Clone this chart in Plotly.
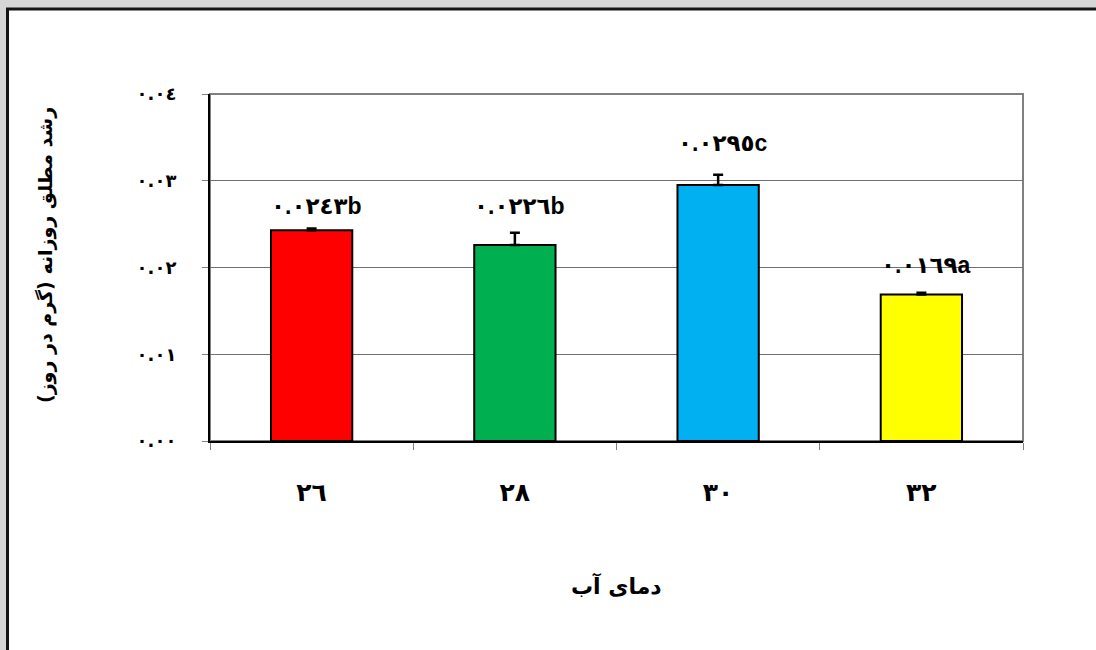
import plotly.graph_objects as go

# ---- data ----
categories = ["٢٦", "٢٨", "٣٠", "٣٢"]
values = [0.0243, 0.0226, 0.0295, 0.0169]
errors = [0.0002, 0.0014, 0.0012, 0.0002]
bar_labels = ["٠.٠٢٤٣b", "٠.٠٢٢٦b", "٠.٠٢٩٥c", "٠.٠١٦٩a"]
bar_colors = ["#FF0000", "#00B050", "#00B0F0", "#FFFF00"]
y_tickvals = [0.0, 0.01, 0.02, 0.03, 0.04]
y_ticktext = ["٠.٠٠", "٠.٠١", "٠.٠٢", "٠.٠٣", "٠.٠٤"]
x_title = "دمای آب"
y_title = "رشد مطلق روزانه (گرم در روز)\u200f"
label_shift_px = [22, 27, 32, 28]  # vertical offset of value labels above error bars

# ---- layout geometry (px) ----
W, H = 1096, 650
L, R, T, B = 210, 1023, 94, 441
pw, ph = R - L, B - T


def px_x(x):
    return (x - L) / pw


def px_y(y):
    return (B - y) / ph


FONT = "Liberation Sans, DejaVu Sans, Arial, sans-serif"

fig = go.Figure()
fig.add_trace(go.Bar(
    x=categories, y=values, width=0.4,
    marker=dict(color=bar_colors, line=dict(color="black", width=2)),
    error_y=dict(type="data", array=errors, symmetric=False,
                 arrayminus=[0] * len(errors),
                 color="black", thickness=2.5, width=5),
    showlegend=False, hoverinfo="skip",
))

annotations = []
for c, v, e, t, s in zip(categories, values, errors, bar_labels, label_shift_px):
    annotations.append(dict(
        x=c, y=v + e, xref="x", yref="y", text=t, showarrow=False,
        yanchor="middle", yshift=s, xshift=5,
        font=dict(family=FONT, size=23, color="black", weight="bold"),
    ))

annotations.append(dict(
    x=0.5, y=px_y(585), xref="paper", yref="paper", text=x_title,
    showarrow=False, xanchor="center", yanchor="middle",
    font=dict(family="DejaVu Sans", size=22, color="black", weight="bold"),
))
annotations.append(dict(
    x=px_x(45), y=px_y(255), xref="paper", yref="paper", text=y_title,
    showarrow=False, xanchor="center", yanchor="middle", textangle=-90,
    font=dict(family="DejaVu Sans", size=19, color="black", weight="bold"),
))

shapes = [
    # white chart area with dark border
    dict(type="rect", xref="paper", yref="paper", layer="below",
         x0=px_x(7.5), x1=px_x(1110), y0=px_y(670), y1=px_y(9),
         fillcolor="white", line=dict(color="#141414", width=3)),
    # plot area border
    dict(type="rect", xref="paper", yref="paper", layer="below",
         x0=0, x1=1, y0=0, y1=1,
         fillcolor="rgba(0,0,0,0)", line=dict(color="#808080", width=2)),
]

fig.update_layout(
    width=W, height=H,
    margin=dict(l=L, r=W - R, t=T, b=H - B, autoexpand=False),
    paper_bgcolor="#D6D6D6",
    plot_bgcolor="white",
    annotations=annotations,
    shapes=shapes,
)

fig.update_xaxes(
    type="category", tickson="boundaries",
    ticks="outside", ticklen=7, tickcolor="#808080", tickwidth=1,
    showline=True, linecolor="black", linewidth=2,
    showgrid=False, zeroline=False,
    tickfont=dict(family="DejaVu Sans", size=25, color="black", weight="bold"),
    ticklabelstandoff=28,
)
fig.update_yaxes(
    range=[0, 0.04], tickvals=y_tickvals, ticktext=y_ticktext,
    ticks="outside", ticklen=6, tickcolor="#808080", tickwidth=1,
    showline=True, linecolor="black", linewidth=2,
    showgrid=True, gridcolor="#707070", gridwidth=1, zeroline=False,
    tickfont=dict(family="DejaVu Sans", size=18, color="black", weight="bold"),
    ticklabelstandoff=22,
)

fig.write_html(
    "out.html",
    config={"displayModeBar": False},
    post_script="document.body.style.margin='0';document.body.style.padding='0';"
                "document.body.style.overflow='hidden';",
)
